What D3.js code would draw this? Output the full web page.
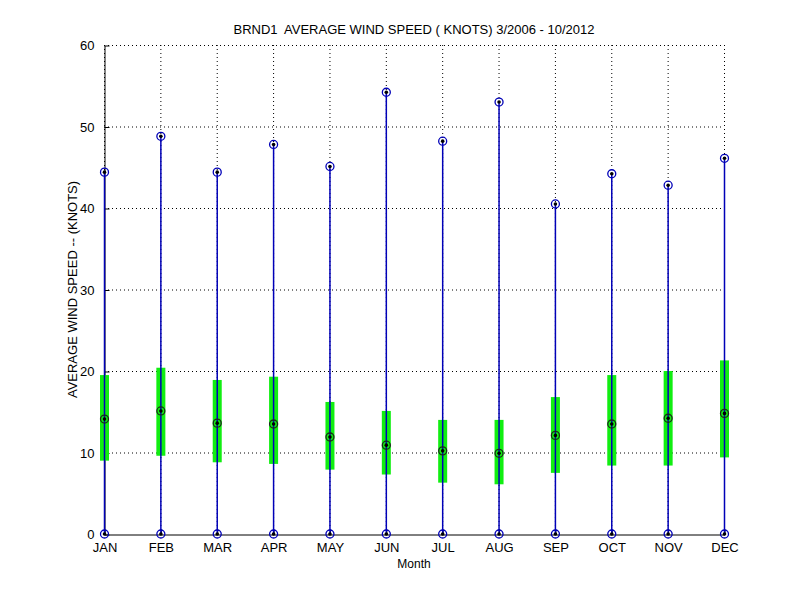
<!DOCTYPE html>
<html>
<head>
<meta charset="utf-8">
<script src="https://cdn.jsdelivr.net/npm/d3@7.9.0/dist/d3.min.js"></script>
<style>
  body { margin: 0; background: #fff; }
  text { font-family: "Liberation Sans", Arial, sans-serif; fill: #000; }
</style>
</head>
<body>
<svg id="chart" width="800" height="600"></svg>
<script>
// values
const months = ['JAN', 'FEB', 'MAR', 'APR', 'MAY', 'JUN', 'JUL', 'AUG', 'SEP', 'OCT', 'NOV', 'DEC'];
const minVals = [0, 0, 0, 0, 0, 0, 0, 0, 0, 0, 0, 0];
const maxVals = [44.4, 48.8, 44.4, 47.8, 45.1, 54.2, 48.2, 53.0, 40.5, 44.2, 42.8, 46.1];
const medianVals = [14.1, 15.1, 13.6, 13.5, 11.9, 10.9, 10.2, 9.9, 12.1, 13.5, 14.2, 14.8];
const lowerVals = [9.0, 9.6, 8.8, 8.6, 7.9, 7.3, 6.3, 6.1, 7.5, 8.4, 8.4, 9.4];
const upperVals = [19.5, 20.4, 18.9, 19.3, 16.2, 15.1, 14.0, 14.0, 16.8, 19.5, 20.0, 21.3];
const yTicks = [0, 10, 20, 30, 40, 50, 60];

const data = months.map((m, i) => ({
  month: m, idx: i + 1,
  min: minVals[i], max: maxVals[i], med: medianVals[i],
  lo: lowerVals[i], hi: upperVals[i]
}));

const svg = d3.select('#chart');
const mLeft = 104, mRight = 724, mTop = 45, mBottom = 534;

const x = d3.scaleLinear().domain([1, 12]).range([mLeft, mRight]);
const y = d3.scaleLinear().domain([0, 60]).range([mBottom, mTop]);

// dotted grid
const grid = svg.append('g')
  .attr('stroke', '#000')
  .attr('stroke-width', 1)
  .attr('stroke-dasharray', '1,3');

yTicks.filter(t => t > 0).forEach(t => {
  grid.append('line')
    .attr('x1', mLeft).attr('x2', mRight)
    .attr('y1', y(t) + 0.5).attr('y2', y(t) + 0.5);
});
data.forEach(d => {
  grid.append('line')
    .attr('x1', x(d.idx) + 0.5).attr('x2', x(d.idx) + 0.5)
    .attr('y1', mTop).attr('y2', mBottom);
});

// axes, ticks pointing inward like matlab
const yAxis = d3.axisLeft(y).tickValues(yTicks).tickSizeInner(-5).tickSizeOuter(0).tickPadding(10);
const gy = svg.append('g').attr('transform', `translate(${mLeft + 0.5},0.5)`).call(yAxis);
gy.selectAll('text').style('font-size', '13px').attr('font-family', null);

const xAxis = d3.axisBottom(x).tickValues(data.map(d => d.idx))
  .tickFormat((d, i) => months[i]).tickSizeInner(-5).tickSizeOuter(0).tickPadding(8);
const gx = svg.append('g').attr('transform', `translate(0.5,${mBottom + 0.5})`).call(xAxis);
gx.selectAll('text').style('font-size', '13px').attr('font-family', null);

svg.selectAll('.domain').attr('stroke', '#000');
svg.selectAll('.tick line').attr('stroke', '#000');

// green interquartile-like bars
svg.append('g').selectAll('rect')
  .data(data)
  .join('rect')
  .attr('x', d => x(d.idx) - 4)
  .attr('width', 9)
  .attr('y', d => y(d.hi))
  .attr('height', d => y(d.lo) - y(d.hi))
  .attr('fill', '#11ee11');

// blue range lines
svg.append('g').selectAll('line')
  .data(data)
  .join('line')
  .attr('x1', d => x(d.idx) + 0.5).attr('x2', d => x(d.idx) + 0.5)
  .attr('y1', d => y(d.min)).attr('y2', d => y(d.max))
  .attr('stroke', '#0000b8')
  .attr('stroke-width', 1.5);

// markers: circle with a dot
function marker(g, key, color) {
  g.selectAll('circle.ring-' + key)
    .data(data)
    .join('circle')
    .attr('class', 'ring-' + key)
    .attr('cx', d => x(d.idx) + 0.5)
    .attr('cy', d => y(d[key]))
    .attr('r', 4)
    .attr('fill', 'none')
    .attr('stroke', color)
    .attr('stroke-width', 1.3);
  g.selectAll('circle.dot-' + key)
    .data(data)
    .join('circle')
    .attr('class', 'dot-' + key)
    .attr('cx', d => x(d.idx) + 0.5)
    .attr('cy', d => y(d[key]))
    .attr('r', 1.8)
    .attr('fill', '#000');
}
const mk = svg.append('g');
marker(mk, 'max', '#0000b8');
marker(mk, 'min', '#0000b8');
marker(mk, 'med', '#1a2a1a');

// title and labels
svg.append('text')
  .attr('x', (mLeft + mRight) / 2).attr('y', 34)
  .attr('text-anchor', 'middle')
  .style('font-size', '13px')
  .style('white-space', 'pre')
  .text('BRND1  AVERAGE WIND SPEED ( KNOTS) 3/2006 - 10/2012');

svg.append('text')
  .attr('x', (mLeft + mRight) / 2).attr('y', 568)
  .attr('text-anchor', 'middle')
  .style('font-size', '12px')
  .text('Month');

svg.append('text')
  .attr('transform', `translate(77,${(mTop + mBottom) / 2}) rotate(-90)`)
  .attr('text-anchor', 'middle')
  .style('font-size', '13px')
  .text('AVERAGE WIND SPEED -- (KNOTS)');
</script>
</body>
</html>
